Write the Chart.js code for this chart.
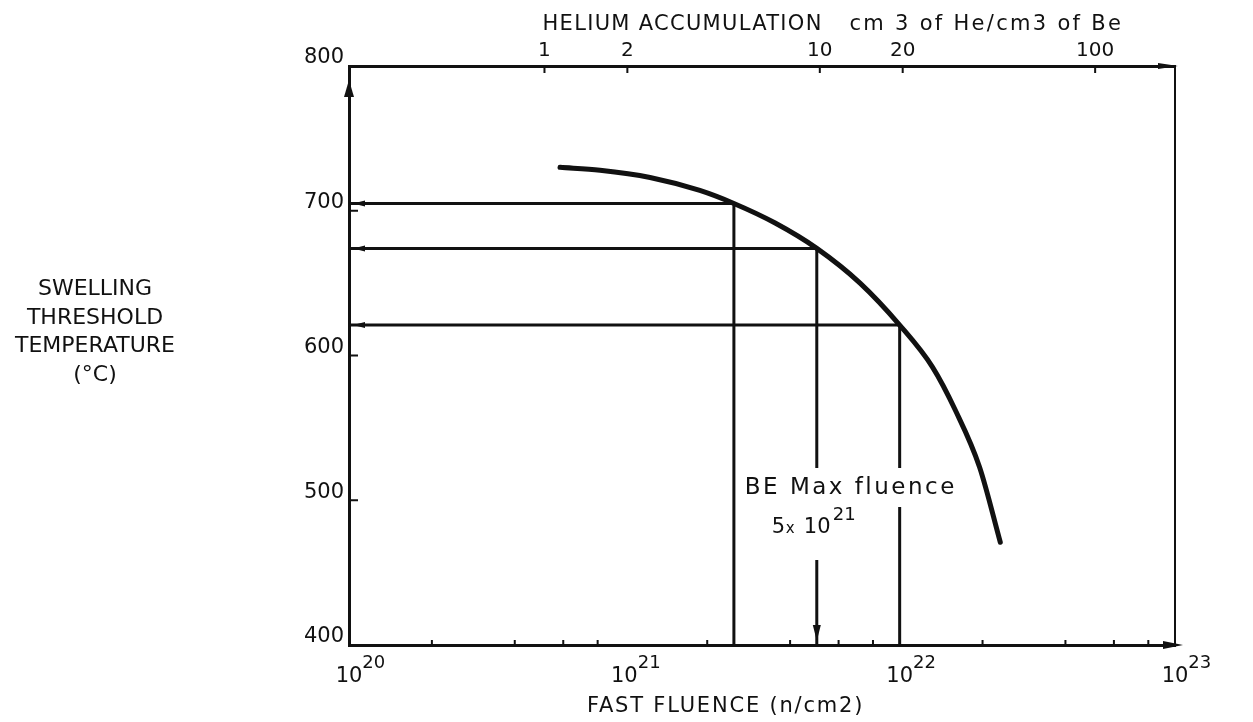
<!DOCTYPE html>
<html>
<head>
<meta charset="utf-8">
<script src="https://cdn.jsdelivr.net/npm/chart.js@4.4.1/dist/chart.umd.min.js"></script>
<style>
    html, body { margin: 0; padding: 0; background: #fff; }
    #wrap { width: 1253px; height: 722px; }
</style>
</head>
<body>
<div id="wrap"><canvas id="swellChart" width="1253" height="722"></canvas></div>
<script>
/* ==================================================
   スウェリング閾値温度 vs 高速中性子照射量
   ================================================== */

// 閾値温度曲線 (n/cm2, °C)
const curveFluence = [5.84e20, 8.16e20, 1.24e21, 1.88e21, 2.5e21, 3.53e21, 5e21, 7.18e21, 1e22, 1.316e22, 1.595e22, 1.95e22, 2.32e22];
const curveTemp = [730, 728, 723, 714, 705, 691.5, 674, 650, 621, 592, 562, 523, 471];

// 読み取り線 (照射量 → 温度)
const guideFluence = [2.5e21, 5e21, 1e22];
const guideTemp = [705, 674, 621];
const beMaxFluence = 5e21;

// 軸
const xMin = 1e20;
const xMax = 1e23;
const xDecades = [20, 21, 22, 23];
const xMinorTicks = [2e20, 4e20, 6e20, 8e20, 2e21, 4e21, 6e21, 8e21, 2e22, 4e22, 6e22, 8e22];
const yTicks = [400, 500, 600, 700, 800];
const heliumMin = 0.195;
const heliumMax = 195;
const heliumTicks = [1, 2, 10, 20, 100];

const INK = '#111';
const FONT = '"DejaVu Sans", sans-serif';

const datasets = [{
    data: curveFluence.map((x, i) => ({ x: x, y: curveTemp[i] })),
    borderColor: INK,
    borderWidth: 5,
    borderCapStyle: 'round',
    cubicInterpolationMode: 'monotone',
    pointRadius: 0
}];

guideFluence.forEach((f, i) => {
    // 水平線 (縦軸から曲線まで)
    datasets.push({
        data: [{ x: xMin, y: guideTemp[i] }, { x: f, y: guideTemp[i] }],
        borderColor: INK,
        borderWidth: 3,
        pointRadius: 0
    });
    // 垂直線 (曲線から横軸まで)
    datasets.push({
        data: [{ x: f, y: guideTemp[i] }, { x: f, y: yTicks[0] }],
        borderColor: INK,
        borderWidth: 3,
        pointRadius: 0
    });
});

function arrowHead(ctx, tipX, tipY, dx, dy, len, half) {
    // dx, dy: 矢印の向き (単位ベクトル)
    const bx = tipX - dx * len;
    const by = tipY - dy * len;
    ctx.beginPath();
    ctx.moveTo(tipX, tipY);
    ctx.lineTo(bx - dy * half, by + dx * half);
    ctx.lineTo(bx + dy * half, by - dx * half);
    ctx.closePath();
    ctx.fill();
}

function textSpaced(ctx, str, x, y, spacing) {
    ctx.letterSpacing = spacing + 'px';
    ctx.fillText(str, x, y);
    ctx.letterSpacing = '0px';
}

const decorPlugin = {
    id: 'swellDecor',
    afterDatasetsDraw(chart) {
        const ctx = chart.ctx;
        const area = chart.chartArea;
        const xs = chart.scales.x;
        const ys = chart.scales.y;
        const hs = chart.scales.x2;

        ctx.save();
        ctx.fillStyle = INK;
        ctx.strokeStyle = INK;

        // 軸の矢印
        arrowHead(ctx, area.left, area.top + 14, 0, -1, 17, 5);
        arrowHead(ctx, area.right + 3, area.top, 1, 0, 20, 3);
        arrowHead(ctx, area.right + 8, area.bottom, 1, 0, 20, 4);

        // 水平線の矢印 (縦軸側)
        guideTemp.forEach(t => {
            arrowHead(ctx, area.left + 4, ys.getPixelForValue(t), -1, 0, 12, 3);
        });
        // BE 最大照射量の矢印
        arrowHead(ctx, xs.getPixelForValue(beMaxFluence), area.bottom - 4, 0, 1, 16, 4);

        // 目盛り線 (内向き)
        ctx.lineWidth = 2;
        ctx.beginPath();
        xMinorTicks.forEach(v => {
            const px = xs.getPixelForValue(v);
            ctx.moveTo(px, area.bottom);
            ctx.lineTo(px, area.bottom - 5);
        });
        heliumTicks.forEach(v => {
            const px = hs.getPixelForValue(v);
            ctx.moveTo(px, area.top);
            ctx.lineTo(px, area.top + 7);
        });
        yTicks.slice(1, -1).forEach(v => {
            const py = ys.getPixelForValue(v);
            ctx.moveTo(area.left, py);
            ctx.lineTo(area.left + 9, py);
        });
        ctx.stroke();

        // 横軸ラベル 10^n
        ctx.textBaseline = 'alphabetic';
        xDecades.forEach(d => {
            const px = xs.getPixelForValue(Math.pow(10, d));
            ctx.font = '21px ' + FONT;
            ctx.textAlign = 'center';
            const w = ctx.measureText('10').width;
            ctx.fillText('10', px, area.bottom + 37);
            ctx.font = '18px ' + FONT;
            ctx.textAlign = 'left';
            ctx.fillText(String(d), px + w / 2, area.bottom + 23);
        });

        // 横軸タイトル
        ctx.font = '21px ' + FONT;
        ctx.textAlign = 'left';
        textSpaced(ctx, 'FAST FLUENCE (n/cm2)', area.left + 238, area.bottom + 67, 1.8);

        // 上軸タイトル
        const hx = hs.getPixelForValue(heliumTicks[0]) - 2;
        textSpaced(ctx, 'HELIUM ACCUMULATION', hx, 30, 1.3);
        textSpaced(ctx, 'cm 3 of He/cm3 of Be', hx + 307, 30, 2.3);

        // 縦軸タイトル
        ctx.font = '22px ' + FONT;
        ctx.textAlign = 'center';
        ['SWELLING', 'THRESHOLD', 'TEMPERATURE', '(°C)'].forEach((s, i) => {
            ctx.fillText(s, 95, 295 + i * 28.5);
        });

        // BE 最大照射量の注記 (白地で線を切る)
        const bx = xs.getPixelForValue(beMaxFluence);
        ctx.fillStyle = '#fff';
        ctx.fillRect(bx - 75, 468, 222, 39);
        ctx.fillRect(bx - 50, 507, 96, 53);
        ctx.fillStyle = INK;
        ctx.font = '23px ' + FONT;
        ctx.textAlign = 'left';
        textSpaced(ctx, 'BE Max fluence', bx - 72, 494, 2.5);
        ctx.font = '21px ' + FONT;
        ctx.fillText('5', bx - 45, 533);
        ctx.font = '15px ' + FONT;
        ctx.fillText('x', bx - 31, 533);
        ctx.font = '21px ' + FONT;
        ctx.fillText('10', bx - 13, 533);
        ctx.font = '18px ' + FONT;
        ctx.fillText('21', bx + 16, 520);

        ctx.restore();
    }
};

new Chart(document.getElementById('swellChart'), {
    type: 'line',
    data: { datasets: datasets },
    options: {
        responsive: false,
        animation: false,
        events: [],
        layout: { padding: 0 },
        plugins: {
            legend: { display: false },
            tooltip: { enabled: false }
        },
        scales: {
            x: {
                type: 'logarithmic',
                position: 'bottom',
                min: xMin,
                max: xMax,
                ticks: { display: false },
                grid: { display: false, drawTicks: false },
                border: { color: INK, width: 3 },
                afterFit(scale) { scale.height = 77; }
            },
            x2: {
                type: 'logarithmic',
                position: 'top',
                min: heliumMin,
                max: heliumMax,
                afterBuildTicks(scale) {
                    scale.ticks = heliumTicks.map(v => ({ value: v }));
                },
                ticks: {
                    autoSkip: false,
                    maxRotation: 0,
                    padding: 3,
                    color: INK,
                    font: { family: FONT, size: 20 },
                    callback: v => String(v)
                },
                grid: { display: false, drawTicks: false },
                border: { color: INK, width: 3 },
                afterFit(scale) { scale.height = 66; }
            },
            y: {
                type: 'linear',
                min: yTicks[0],
                max: yTicks[yTicks.length - 1],
                afterBuildTicks(scale) {
                    scale.ticks = yTicks.map(v => ({ value: v }));
                },
                ticks: {
                    padding: 5,
                    labelOffset: -8,
                    color: INK,
                    font: { family: FONT, size: 21 }
                },
                grid: { display: false, drawTicks: false },
                border: { color: INK, width: 3 },
                afterFit(scale) { scale.width = 349; }
            },
            y2: {
                type: 'linear',
                position: 'right',
                min: yTicks[0],
                max: yTicks[yTicks.length - 1],
                ticks: { display: false },
                grid: { display: false, drawTicks: false },
                border: { color: INK, width: 2 },
                afterFit(scale) { scale.width = 78; }
            }
        }
    },
    plugins: [decorPlugin]
});
</script>
</body>
</html>
